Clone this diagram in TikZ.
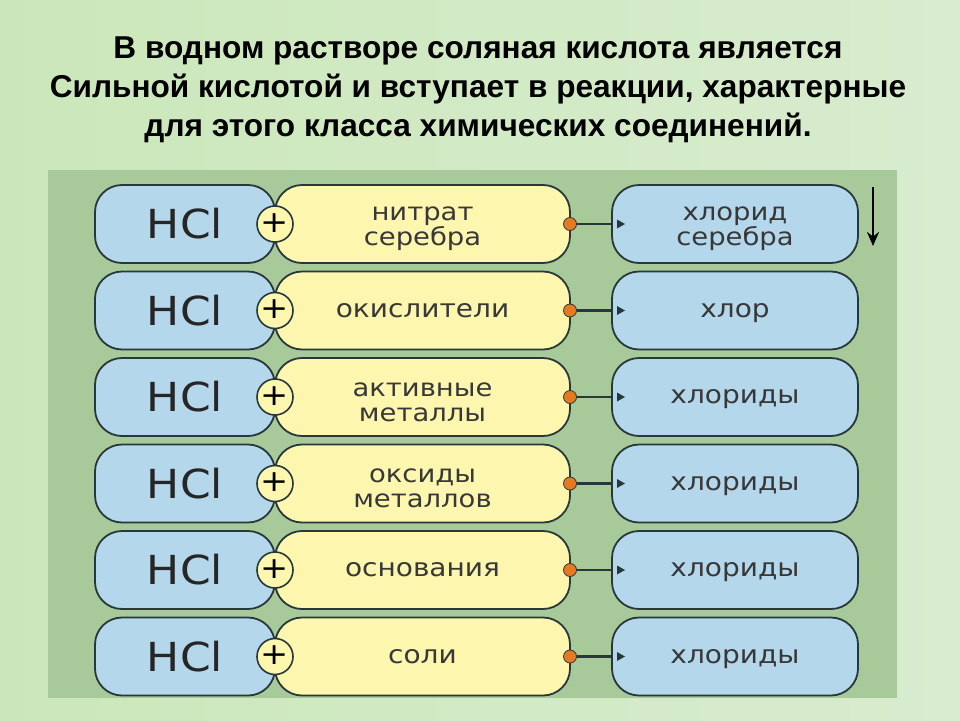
\documentclass[tikz,border=0pt]{standalone}
\usepackage{fontspec}
\setmainfont{Liberation Sans}
\newfontfamily\titlefont{Liberation Sans Bold}
\newfontfamily\boxfont[FakeStretch=1.12]{DejaVu Sans}
\newfontfamily\hclfont[FakeStretch=1.1]{DejaVu Sans}
\usetikzlibrary{arrows.meta}
\definecolor{bgl}{HTML}{CBE7BA}
\definecolor{bgr}{HTML}{D8ECCF}
\definecolor{panelc}{HTML}{A8CA9A}
\definecolor{bluec}{HTML}{B4D7EC}
\definecolor{yelc}{HTML}{FDF6AE}
\definecolor{edgec}{HTML}{28383A}
\definecolor{txtc}{HTML}{383838}
\definecolor{orangec}{HTML}{E57A22}
\tikzset{
  every node/.style={inner sep=0pt, outer sep=0pt},
  basebox/.style={draw=edgec, line width=1.8pt, rounded corners=27pt, minimum height=78pt},
  hclbox/.style={basebox, fill=bluec, minimum width=180pt,
    font=\hclfont\fontsize{40}{44}\selectfont, text=black!85},
  reagbox/.style={basebox, fill=yelc, minimum width=295pt},
  prodbox/.style={basebox, fill=bluec, minimum width=246pt},
  onel/.style={font=\boxfont\fontsize{25}{25}\selectfont, text=txtc, text height=13.5pt, text depth=0pt},
  twol/.style={font=\boxfont\fontsize{24.5}{25}\selectfont, text=txtc, align=center, yshift=-5pt},
  plusc/.style={circle, draw=edgec, line width=1.6pt, fill=yelc, minimum size=36pt,
    font=\boxfont\fontsize{30}{30}\selectfont, text=black},
  odot/.style={circle, draw=edgec, line width=0.8pt, fill=orangec, minimum size=13pt},
  conn/.style={draw=edgec, line width=2.2pt},
  titletext/.style={font=\titlefont\fontsize{31.6}{39}\selectfont, align=center, text=black}
}
\begin{document}
\begin{tikzpicture}[x=1pt, y=-1pt]
\useasboundingbox (0,0) rectangle (960,720);
\shade[left color=bgl, right color=bgr] (0,0) rectangle (960,720);
\fill[panelc] (48,170) rectangle (897,698);
\node[titletext] (title) at (478,90) {В водном растворе соляная кислота является\\Сильной кислотой и вступает в реакции, характерные\\для этого класса химических соединений.};
\foreach \i/\r/\rs/\p/\ps in {1/{нитрат\\серебра}/twol/{хлорид\\серебра}/twol,
                      2/{окислители}/onel/{хлор}/onel,
                      3/{активные\\металлы}/twol/{хлориды}/onel,
                      4/{оксиды\\металлов}/twol/{хлориды}/onel,
                      5/{основания}/onel/{хлориды}/onel,
                      6/{соли}/onel/{хлориды}/onel} {
  \pgfmathsetmacro{\yy}{224+86.5*(\i-1)}
  \node[hclbox] (h\i) at (185,\yy) {\raisebox{-1pt}{HCl}};
  \node[reagbox] (r\i) at (422.5,\yy) {};
  \node[\rs] (rt\i) at (422.5,\yy) {\r};
  \node[plusc] (c\i) at (275,\yy) {\raisebox{2pt}{+}};
  \node[prodbox] (p\i) at (735,\yy) {};
  \node[\ps] (pt\i) at (735,\yy) {\p};
  \node[odot] (d\i) at (570,\yy) {};
  \draw[conn] (d\i.east) -- (p\i.west);
  \fill[edgec] ([xshift=5pt,yshift=-4.5pt]p\i.west) -- ([xshift=13pt]p\i.west) -- ([xshift=5pt,yshift=4.5pt]p\i.west) -- cycle;
}
\coordinate (atop) at (873,187);
\coordinate (abot) at (873,246);
\draw[line width=2.6pt, -{Stealth[length=14pt,width=12pt]}] (atop) -- (abot);
\end{tikzpicture}
\end{document}
